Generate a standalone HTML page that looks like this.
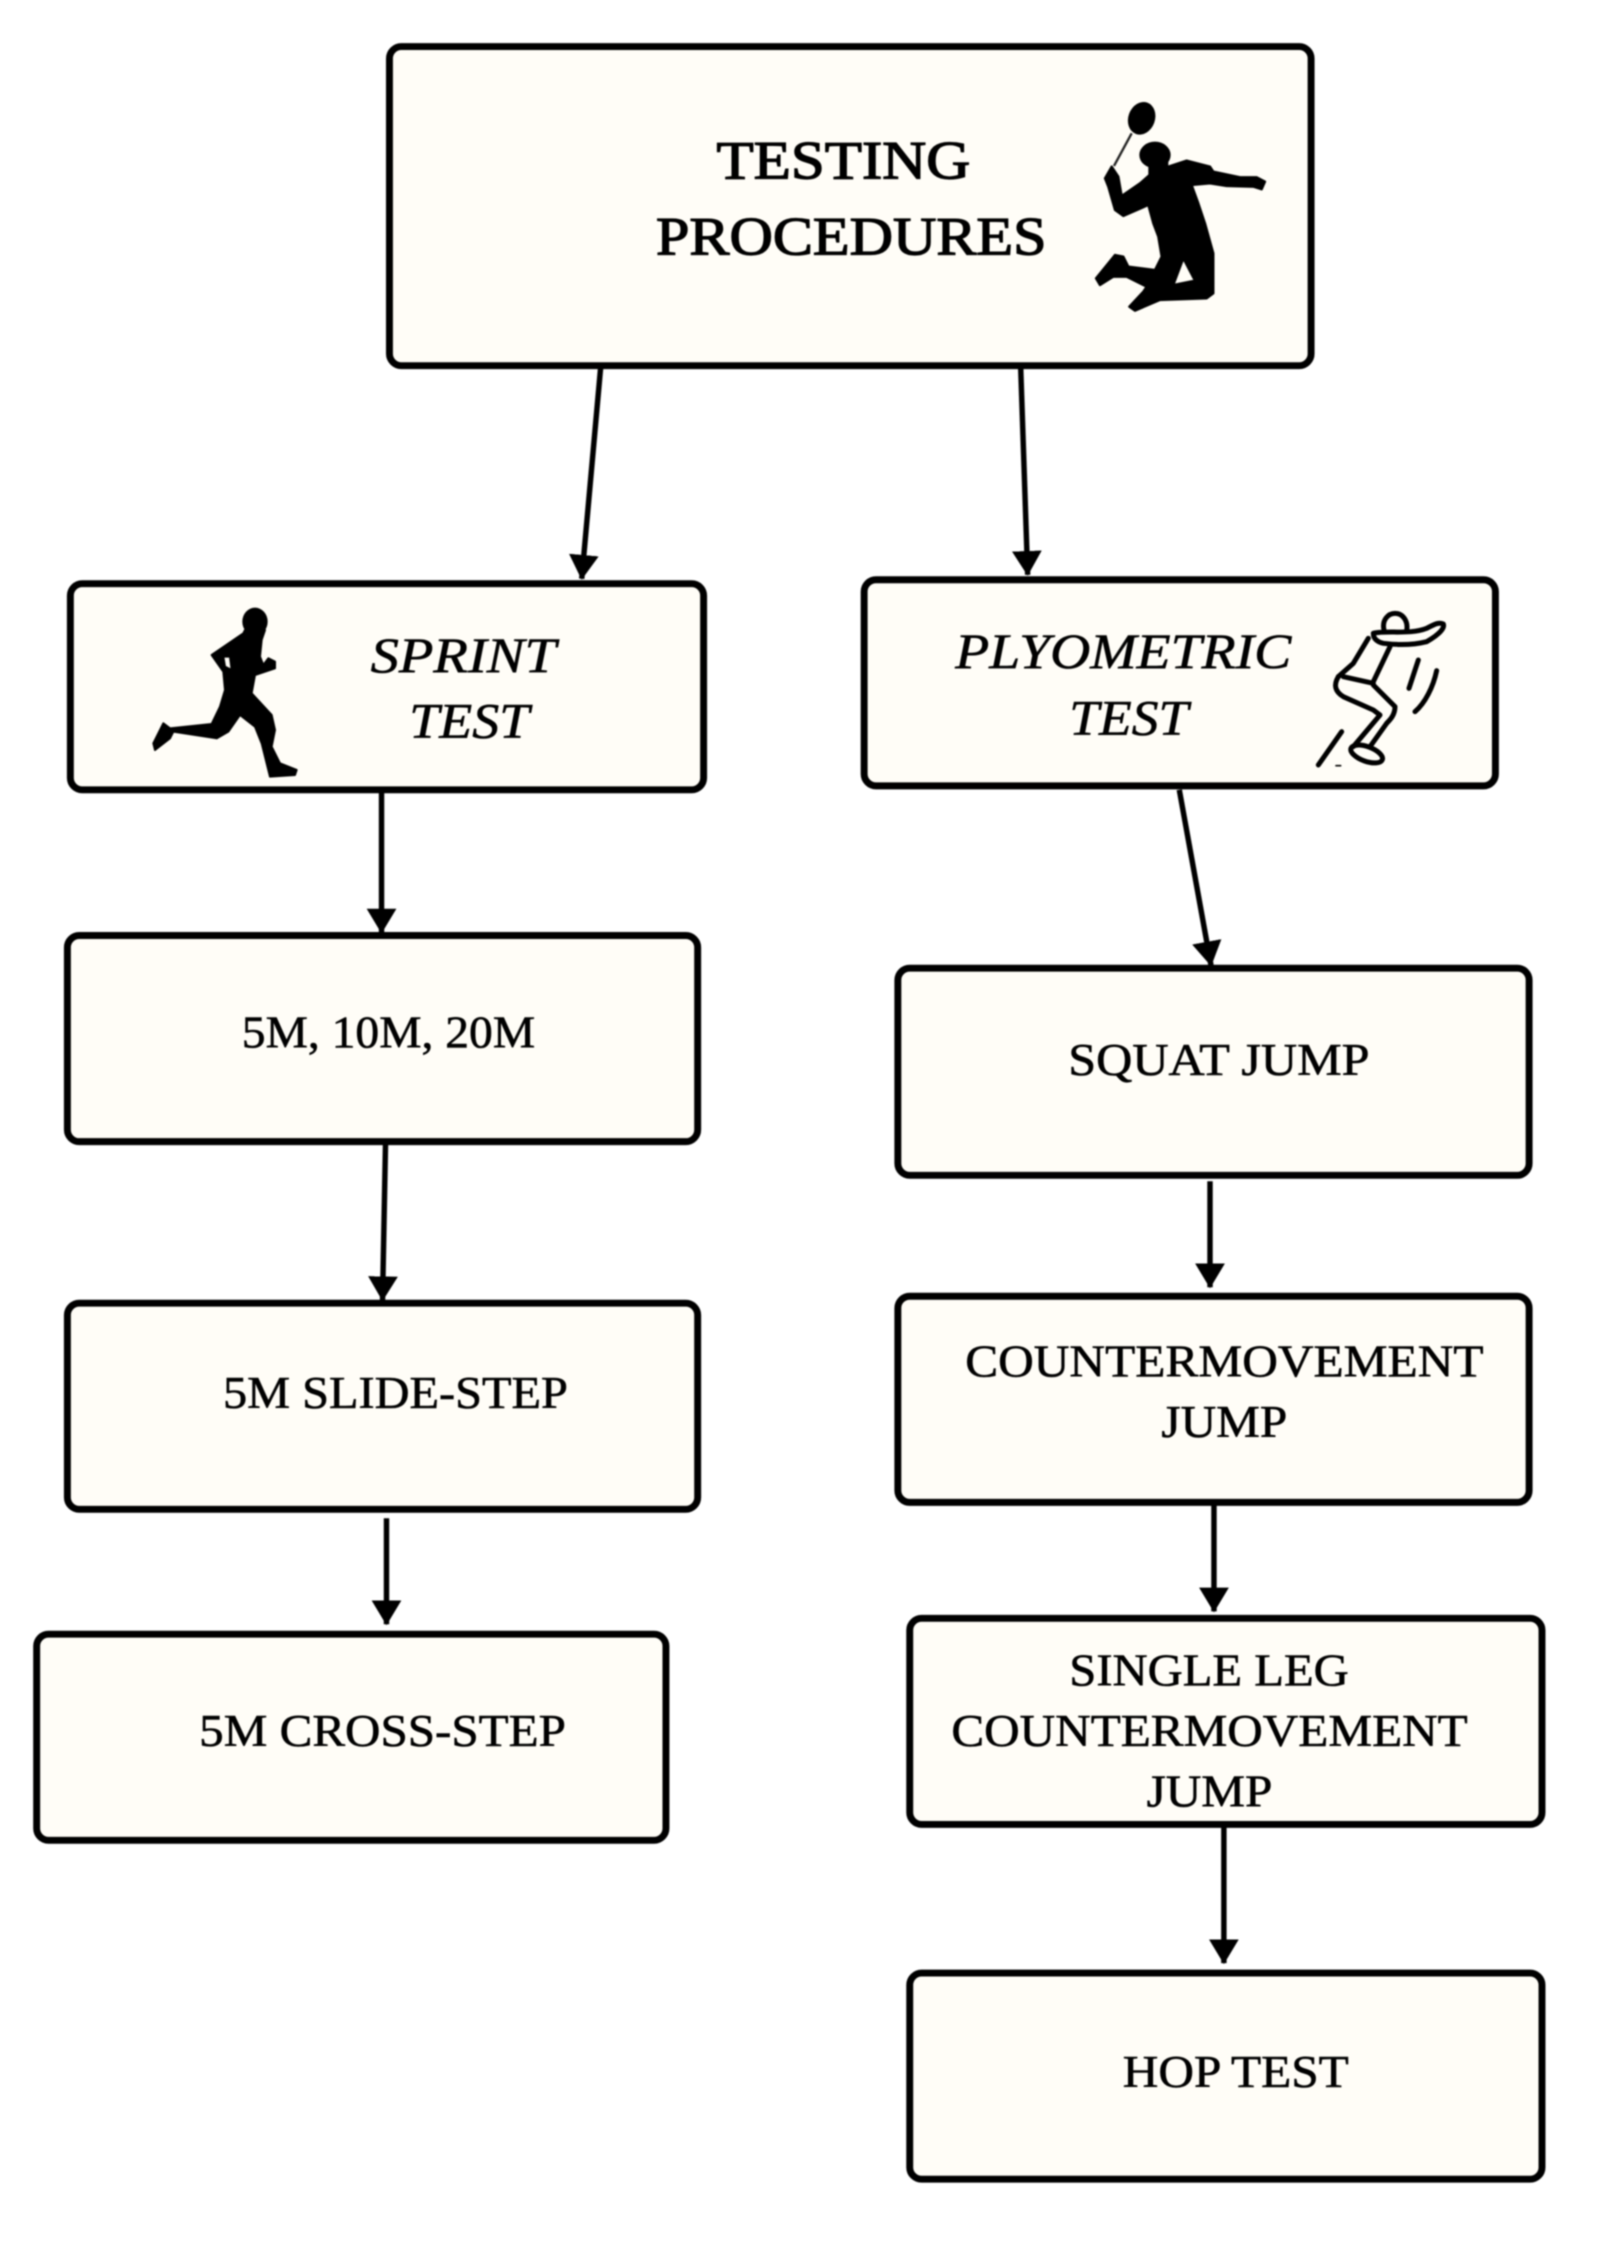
<!DOCTYPE html>
<html><head><meta charset="utf-8"><style>
html,body{margin:0;padding:0;background:#fff;width:1599px;height:2242px;overflow:hidden}
svg{display:block;filter:blur(.7px)}
text{font-family:"Liberation Serif",serif;font-size:50px;fill:#000;stroke:#000;stroke-width:.6px}
.i{font-style:italic}
rect{fill:#fffdf7;stroke:#000;stroke-width:7}
.a{stroke:#000;stroke-width:5.5;fill:none;marker-end:url(#h)}
</style></head><body>
<svg width="1599" height="2242" viewBox="0 0 1599 2242" xmlns="http://www.w3.org/2000/svg">
<defs><marker id="h" markerUnits="userSpaceOnUse" markerWidth="32" markerHeight="30" refX="24" refY="15" orient="auto"><path d="M0 0L25 15L0 30Z" fill="#000"/></marker></defs>
<g transform="scale(.991)">
<rect x="393" y="47" width="930" height="322" rx="12"/>
<rect x="71" y="589" width="639" height="208" rx="12"/>
<rect x="872" y="585" width="637" height="208" rx="12"/>
<rect x="68" y="944" width="636" height="208" rx="12"/>
<rect x="68" y="1315" width="636" height="208" rx="12"/>
<rect x="37" y="1649" width="635" height="208" rx="12"/>
<rect x="906" y="977" width="637" height="209" rx="12"/>
<rect x="906" y="1308" width="637" height="208" rx="12"/>
<rect x="918" y="1633" width="638" height="208" rx="12"/>
<rect x="918" y="1991" width="638" height="208" rx="12"/>
<line class="a" x1="606" y1="372" x2="587" y2="584"/>
<line class="a" x1="1030" y1="372" x2="1037" y2="580"/>
<line class="a" x1="385" y1="800" x2="385" y2="941"/>
<line class="a" x1="1190" y1="797" x2="1222" y2="974"/>
<line class="a" x1="389" y1="1155" x2="386" y2="1312"/>
<line class="a" x1="1221" y1="1192" x2="1221" y2="1299"/>
<line class="a" x1="390" y1="1532" x2="390" y2="1639"/>
<line class="a" x1="1225" y1="1518" x2="1225" y2="1626"/>
<line class="a" x1="1235" y1="1844" x2="1235" y2="1981"/>
<text x="723" y="180" textLength="256" lengthAdjust="spacingAndGlyphs" style="font-size:54px;stroke-width:1.3px">TESTING</text>
<text x="662" y="257" textLength="394" lengthAdjust="spacingAndGlyphs" style="font-size:54px;stroke-width:1.3px">PROCEDURES</text>
<text class="i" x="374" y="678" textLength="187" lengthAdjust="spacingAndGlyphs">SPRINT</text>
<text class="i" x="413" y="744" textLength="121" lengthAdjust="spacingAndGlyphs">TEST</text>
<text class="i" x="964" y="674" textLength="339" lengthAdjust="spacingAndGlyphs">PLYOMETRIC</text>
<text class="i" x="1079" y="741" textLength="120" lengthAdjust="spacingAndGlyphs">TEST</text>
<text x="244" y="1057" textLength="296" lengthAdjust="spacingAndGlyphs" style="font-size:46px">5M, 10M, 20M</text>
<text x="225" y="1421" textLength="348" lengthAdjust="spacingAndGlyphs" style="font-size:46px">5M SLIDE-STEP</text>
<text x="201" y="1762" textLength="370" lengthAdjust="spacingAndGlyphs" style="font-size:46px">5M CROSS-STEP</text>
<text x="1078" y="1085" textLength="304" lengthAdjust="spacingAndGlyphs" style="font-size:46px">SQUAT JUMP</text>
<text x="974" y="1389" textLength="523" lengthAdjust="spacingAndGlyphs" style="font-size:46px">COUNTERMOVEMENT</text>
<text x="1172" y="1450" textLength="127" lengthAdjust="spacingAndGlyphs" style="font-size:46px">JUMP</text>
<text x="1079" y="1701" textLength="282" lengthAdjust="spacingAndGlyphs" style="font-size:46px">SINGLE LEG</text>
<text x="960" y="1762" textLength="521" lengthAdjust="spacingAndGlyphs" style="font-size:46px">COUNTERMOVEMENT</text>
<text x="1157" y="1823" textLength="127" lengthAdjust="spacingAndGlyphs" style="font-size:46px">JUMP</text>
<text x="1133" y="2106" textLength="228" lengthAdjust="spacingAndGlyphs" style="font-size:46px">HOP TEST</text>
</g>
<g transform="translate(1040 90) scale(.3333)">
<ellipse cx="305" cy="85" rx="40" ry="50" transform="rotate(20 305 85)" fill="#000"/>
<line x1="275" y1="130" x2="222" y2="228" stroke="#222" stroke-width="7"/>
<ellipse cx="345" cy="195" rx="47" ry="40" fill="#000"/>
<rect x="325" y="215" width="60" height="40" style="fill:#000;stroke:none"/>
<path fill="#000" stroke="#000" stroke-width="7" stroke-linejoin="round" fill-rule="evenodd" d="M195 265L215 230L235 260L245 318L300 280L340 245L400 225L440 212L510 230L520 245L600 262L650 262L675 275L665 298L640 290L560 288L510 280L455 285L475 340L495 400L520 490L520 610L500 625L360 630L285 662L268 650L310 605L320 590L260 560L220 560L180 585L168 565L225 495L250 500L265 530L345 540L365 500L355 440L340 400L325 345L250 378L225 360L205 290ZM430 505L465 572L400 585Z"/>
</g>
<g transform="translate(140 600) scale(.3333)">
<ellipse cx="345" cy="65" rx="38" ry="42" fill="#000"/>
<path fill="#000" stroke="#000" stroke-width="6" stroke-linejoin="round" fill-rule="evenodd" d="M315 90L375 90L365 120L360 170L370 195L385 175L405 185L405 205L375 215L345 225L335 280L395 345L405 390L395 440L420 490L470 510L465 525L390 530L365 430L345 380L300 345L265 395L230 415L100 395L90 415L45 450L40 430L70 370L90 385L215 372L240 320L255 270L250 215L215 165L310 100ZM250 170L270 170L275 210L255 200Z"/>
</g>
<g transform="translate(1310 600) scale(.3333)" fill="none" stroke="#000" stroke-width="15" stroke-linecap="round" stroke-linejoin="round">
<path d="M222 90C215 60 235 40 255 40C280 40 295 65 290 92"/>
<path d="M190 100C230 90 300 105 350 85C370 75 385 65 400 72C405 85 385 105 350 125C310 135 260 135 220 130C200 125 190 115 190 100Z"/>
<path d="M175 115L130 190L85 230M240 140L190 245"/>
<path d="M100 230L190 250"/>
<path d="M85 230C70 255 75 275 100 290L190 330L210 345L130 440"/>
<path d="M190 255L255 320C255 345 240 360 230 370L180 440"/>
<ellipse cx="170" cy="462" rx="50" ry="22" transform="rotate(20 170 462)"/>
<path d="M325 180L297 265M380 212C370 260 345 310 315 335M95 395L25 495"/>
<path d="M78 497H92" stroke-width="5"/>
</g>
</svg>
</body></html>
